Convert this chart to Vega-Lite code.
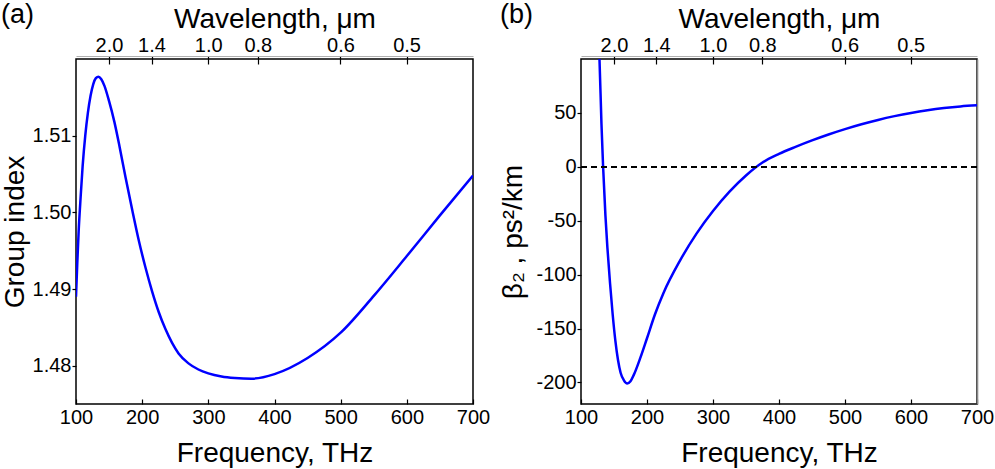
{
  "$schema": "https://vega.github.io/schema/vega-lite/v6.json",
  "background": "white",
  "padding": {"left": 0, "top": 0, "right": 0, "bottom": 0},
  "bounds": "flush",
  "spacing": 108,
  "config": {
    "font": "Liberation Sans",
    "view": {"stroke": "black", "strokeWidth": 1.5},
    "axis": {
      "labelFont": "Liberation Sans", "titleFont": "Liberation Sans",
      "labelFontSize": 20, "titleFontSize": 28, "titleFontWeight": "normal",
      "labelColor": "black", "titleColor": "black", "labelFlush": false,
      "domain": false, "grid": false, "tickColor": "black", "tickWidth": 1.2
    },
    "title": {"font": "Liberation Sans", "fontSize": 27, "fontWeight": "normal", "color": "black"}
  },
  "datasets": {
    "a": [
      {"f": 100, "v": 1.4890}, {"f": 102, "v": 1.4935}, {"f": 104, "v": 1.4975}, {"f": 107, "v": 1.5020},
      {"f": 110, "v": 1.5060}, {"f": 114, "v": 1.5100}, {"f": 118, "v": 1.5130}, {"f": 122, "v": 1.5152},
      {"f": 126, "v": 1.5167}, {"f": 130, "v": 1.5175}, {"f": 134, "v": 1.5177}, {"f": 138, "v": 1.5174},
      {"f": 143, "v": 1.5165}, {"f": 150, "v": 1.5145}, {"f": 158, "v": 1.5118}, {"f": 166, "v": 1.5085},
      {"f": 175, "v": 1.5045}, {"f": 185, "v": 1.5003}, {"f": 195, "v": 1.4963}, {"f": 205, "v": 1.4928},
      {"f": 215, "v": 1.4897}, {"f": 225, "v": 1.4870}, {"f": 235, "v": 1.4848}, {"f": 245, "v": 1.4830},
      {"f": 255, "v": 1.4816}, {"f": 270, "v": 1.4803}, {"f": 285, "v": 1.4795}, {"f": 300, "v": 1.4790},
      {"f": 320, "v": 1.4786}, {"f": 340, "v": 1.4784}, {"f": 365, "v": 1.4783}, {"f": 400, "v": 1.4789},
      {"f": 450, "v": 1.4810}, {"f": 500, "v": 1.4843}, {"f": 550, "v": 1.4891}, {"f": 600, "v": 1.4943},
      {"f": 650, "v": 1.4996}, {"f": 700, "v": 1.5048}
    ],
    "b": [
      {"f": 125, "v": 140}, {"f": 128, "v": 100}, {"f": 131, "v": 40}, {"f": 133.5, "v": 0},
      {"f": 137, "v": -45}, {"f": 140, "v": -75}, {"f": 144, "v": -108}, {"f": 148, "v": -137},
      {"f": 152, "v": -161}, {"f": 156, "v": -179}, {"f": 160, "v": -191}, {"f": 165, "v": -198},
      {"f": 170, "v": -201}, {"f": 175, "v": -199}, {"f": 180, "v": -193}, {"f": 190, "v": -177},
      {"f": 200, "v": -159}, {"f": 212, "v": -137}, {"f": 225, "v": -117}, {"f": 250, "v": -87},
      {"f": 275, "v": -62}, {"f": 300, "v": -41}, {"f": 325, "v": -23}, {"f": 350, "v": -8},
      {"f": 375, "v": 4}, {"f": 400, "v": 12}, {"f": 425, "v": 18.5}, {"f": 450, "v": 24.5},
      {"f": 475, "v": 30}, {"f": 500, "v": 35}, {"f": 525, "v": 39.5}, {"f": 550, "v": 43.5},
      {"f": 575, "v": 47}, {"f": 600, "v": 50}, {"f": 625, "v": 52.5}, {"f": 650, "v": 54.5},
      {"f": 675, "v": 56}, {"f": 700, "v": 57}
    ]
  },
  "hconcat": [
    {
      "width": 397, "height": 345,
      "title": {"text": "(a)", "anchor": "start", "frame": "bounds", "offset": -24},
      "data": {"name": "a"},
      "resolve": {"axis": {"x": "independent"}},
      "layer": [
        {
          "mark": {"type": "line", "color": "#0000ff", "strokeWidth": 2.5, "clip": true, "interpolate": "monotone"},
          "encoding": {
            "x": {"field": "f", "type": "quantitative", "scale": {"domain": [100, 700], "nice": false},
                  "axis": {"orient": "bottom", "title": "Frequency, THz", "values": [100, 200, 300, 400, 500, 600, 700], "tickSize": -5, "labelPadding": 8, "titlePadding": 12}},
            "y": {"field": "v", "type": "quantitative", "scale": {"domain": [1.475, 1.52], "nice": false, "zero": false},
                  "axis": {"title": "Group index", "values": [1.48, 1.49, 1.50, 1.51], "format": ".2f", "tickSize": 4, "labelPadding": 1, "titlePadding": 3}}
          }
        },
        {
          "mark": {"type": "rule", "strokeOpacity": 0},
          "encoding": {
            "x": {"field": "f", "type": "quantitative",
                  "axis": {"orient": "top", "title": "Wavelength, μm", "values": [149.896, 214.137, 299.792, 374.74, 499.653, 599.584], "labelExpr": "format(299.792/datum.value, '.1f')", "tickSize": -8, "labelPadding": 9, "titlePadding": 2, "offset": 3, "domain": true, "domainColor": "#b0b0b0", "domainWidth": 1.2}}
          }
        }
      ]
    },
    {
      "width": 396, "height": 345,
      "title": {"text": "(b)", "anchor": "start", "frame": "bounds", "offset": -24},
      "data": {"name": "b"},
      "resolve": {"axis": {"x": "independent", "y": "independent"}},
      "layer": [
        {
          "mark": {"type": "line", "color": "#0000ff", "strokeWidth": 2.5, "clip": true, "interpolate": "monotone"},
          "encoding": {
            "x": {"field": "f", "type": "quantitative", "scale": {"domain": [100, 700], "nice": false},
                  "axis": {"orient": "bottom", "title": "Frequency, THz", "values": [100, 200, 300, 400, 500, 600, 700], "tickSize": -5, "labelPadding": 8, "titlePadding": 12}},
            "y": {"field": "v", "type": "quantitative", "scale": {"domain": [-220, 100], "nice": false, "zero": false},
                  "axis": {"orient": "left", "title": "β₂ , ps²/km", "values": [-200, -150, -100, -50, 0, 50], "labelExpr": "(datum.value < 0 ? '-' : '') + abs(datum.value)", "tickSize": 4, "labelPadding": 1, "titlePadding": 8}}
          }
        },
        {
          "mark": {"type": "rule", "color": "black", "strokeWidth": 1.2, "strokeDash": [6, 4]},
          "encoding": {"y": {"datum": 0, "axis": {"orient": "right", "labels": false, "ticks": false, "title": null, "domain": true, "domainColor": "#8a8a8a", "domainWidth": 1.6}}}
        },
        {
          "mark": {"type": "rule", "strokeOpacity": 0},
          "encoding": {
            "x": {"field": "f", "type": "quantitative",
                  "axis": {"orient": "top", "title": "Wavelength, μm", "values": [149.896, 214.137, 299.792, 374.74, 499.653, 599.584], "labelExpr": "format(299.792/datum.value, '.1f')", "tickSize": -8, "labelPadding": 9, "titlePadding": 2, "offset": 3, "domain": true, "domainColor": "#b0b0b0", "domainWidth": 1.2}}
          }
        }
      ]
    }
  ]
}
